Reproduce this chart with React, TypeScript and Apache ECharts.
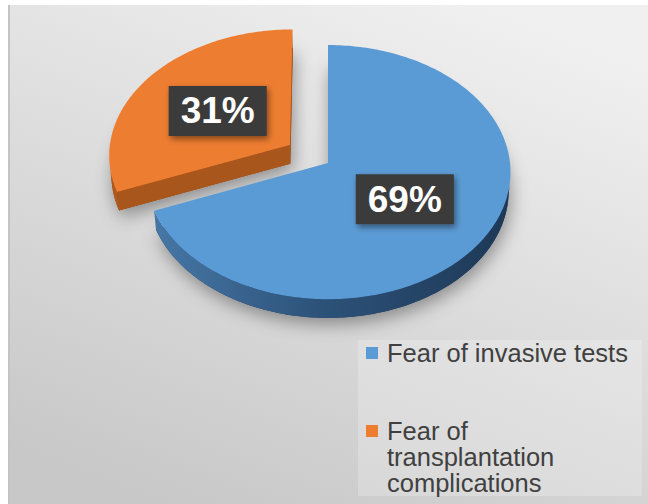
import React, { useEffect, useRef } from 'react';
import * as echarts from 'echarts';

// ---- data ----
const categories = ['Fear of invasive tests', 'Fear of transplantation complications'];
const values = [69, 31];
const legendText: Record<string, string> = {
  'Fear of invasive tests': 'Fear of invasive tests',
  'Fear of transplantation complications': '\n\nFear of\ntransplantation\ncomplications',
};

// ---- style ----
const topColors = ['#5B9BD5', '#ED7D31'];
const W = 648;
const H = 504;

// perspective pie geometry
const CX = 328;
const CY = 163;
const SCALE = 1820;
const DIST = 10;
const TILT = (44 * Math.PI) / 180;
const THICK = 0.144;
const EXPLODE = [0, 0.255];
const SA = Math.sin(TILT);
const CA = Math.cos(TILT);
const CAM = [0, -DIST * CA, DIST * SA];

function proj(x: number, y: number, h: number): number[] {
  const yc = y * SA - h * CA;
  const z = DIST + y * CA + h * SA;
  return [CX + (SCALE * x) / z, CY - (SCALE * yc) / z];
}

function faceVisible(px: number, py: number, nx: number, ny: number) {
  const vx = CAM[0] - px;
  const vy = CAM[1] - py;
  return nx * vx + ny * vy > 1e-4;
}

function sliceInfo(i: number) {
  const total = values.reduce((a, b) => a + b, 0);
  let cum = 0;
  for (let j = 0; j < i; j++) cum += values[j];
  const a0 = Math.PI / 2 - (cum / total) * Math.PI * 2;
  const a1 = a0 - (values[i] / total) * Math.PI * 2;
  const mid = (a0 + a1) / 2;
  const e = EXPLODE[i] || 0;
  return { a0, a1, mid, ox: e * Math.cos(mid), oy: e * Math.sin(mid), pct: Math.round((values[i] / total) * 100) };
}

const sideStyles = [
  {
    wall: {
      type: 'linear', x: 0, y: 0, x2: 1, y2: 0,
      colorStops: [
        { offset: 0, color: '#4777a6' },
        { offset: 0.45, color: '#2d537a' },
        { offset: 1, color: '#1e3856' },
      ],
    },
    face: '#2f5a85',
  },
  {
    wall: '#b05a1f',
    face: '#a9561d',
  },
];

function renderSlice(i: number) {
  return function (params: any, api: any) {
    const { a0, a1, mid, ox, oy, pct } = sliceInfo(i);
    const n = Math.max(8, Math.ceil(Math.abs(a0 - a1) / (Math.PI / 180)));
    const thetas: number[] = [];
    for (let k = 0; k <= n; k++) thetas.push(a0 + ((a1 - a0) * k) / n);

    const children: any[] = [];

    // bottom face as shadow caster
    const bottom: number[][] = [proj(ox, oy, THICK)];
    thetas.forEach((t) => bottom.push(proj(ox + Math.cos(t), oy + Math.sin(t), THICK)));
    children.push({
      type: 'polygon',
      shape: { points: bottom },
      style: {
        fill: i === 0 ? '#1e3856' : '#8c4716',
        shadowBlur: 18,
        shadowColor: 'rgba(0,0,0,0.38)',
        shadowOffsetX: 2,
        shadowOffsetY: 6,
      },
    });

    // radial walls
    const radial = [
      { t: a0, n: a0 + Math.PI / 2 },
      { t: a1, n: a1 - Math.PI / 2 },
    ];
    radial.forEach((r) => {
      const px = ox + 0.5 * Math.cos(r.t);
      const py = oy + 0.5 * Math.sin(r.t);
      if (faceVisible(px, py, Math.cos(r.n), Math.sin(r.n))) {
        const rx = ox + Math.cos(r.t);
        const ry = oy + Math.sin(r.t);
        children.push({
          type: 'polygon',
          shape: {
            points: [proj(ox, oy, 0), proj(rx, ry, 0), proj(rx, ry, THICK), proj(ox, oy, THICK)],
          },
          style: { fill: sideStyles[i].face },
        });
      }
    });

    // outer curved wall (visible runs)
    let run: number[] = [];
    const flush = () => {
      if (run.length > 1) {
        const topPts = run.map((t) => proj(ox + Math.cos(t), oy + Math.sin(t), 0));
        const botPts = run.map((t) => proj(ox + Math.cos(t), oy + Math.sin(t), THICK)).reverse();
        children.push({
          type: 'polygon',
          shape: { points: topPts.concat(botPts) },
          style: { fill: sideStyles[i].wall as any },
        });
      }
      run = [];
    };
    thetas.forEach((t) => {
      const px = ox + Math.cos(t);
      const py = oy + Math.sin(t);
      if (faceVisible(px, py, Math.cos(t), Math.sin(t))) run.push(t);
      else flush();
    });
    flush();

    // top face
    const top: number[][] = [proj(ox, oy, 0)];
    thetas.forEach((t) => top.push(proj(ox + Math.cos(t), oy + Math.sin(t), 0)));
    children.push({
      type: 'polygon',
      shape: { points: top },
      style: { fill: api.visual('color') || topColors[i] },
    });

    // label
    const lp = proj(ox + 0.5 * Math.cos(mid), oy + 0.5 * Math.sin(mid), 0);
    children.push({
      type: 'text',
      z2: 20,
      style: {
        text: pct + '%',
        x: lp[0],
        y: lp[1],
        align: 'center',
        verticalAlign: 'middle',
        fill: '#ffffff',
        fontSize: 37,
        fontWeight: 'bold',
        fontFamily: '"Liberation Sans", Arial, sans-serif',
        lineHeight: 38,
        backgroundColor: '#3a3a3a',
        padding: [6, 12, 6, 12],
        shadowBlur: 6,
        shadowColor: 'rgba(0,0,0,0.45)',
        shadowOffsetX: 2,
        shadowOffsetY: 3,
      },
    });

    return { type: 'group', children };
  };
}

export default function App() {
  const ref = useRef<HTMLDivElement>(null);
  useEffect(() => {
    const chart = echarts.init(ref.current!, null, { renderer: 'svg', width: W, height: H });
    const option: any = {
      animation: false,
      backgroundColor: '#ffffff',
      graphic: [
        {
          type: 'rect',
          z: -10,
          shape: { x: 8, y: 5, width: W - 8, height: H - 5 },
          style: {
            fill: {
              type: 'linear', x: 0.75, y: 0, x2: 0.25, y2: 1,
              colorStops: [
                { offset: 0, color: '#f0f0f0' },
                { offset: 1, color: '#c8c8c8' },
              ],
            },
          },
        },
        {
          type: 'rect',
          z: -9,
          shape: { x: 8, y: 5, width: 2, height: H - 5 },
          style: { fill: '#c4c4c4' },
        },
      ],
      legend: {
        orient: 'vertical',
        left: 358,
        top: 340,
        height: 400,
        padding: [0, 14, 0, 8],
        itemGap: 0,
        itemWidth: 12,
        itemHeight: 12,
        icon: 'rect',
        selectedMode: false,
        backgroundColor: 'rgba(255,255,255,0.22)',
        data: categories.map((c, i) => ({ name: c, itemStyle: { color: topColors[i] } })),
        formatter: (name: string) => legendText[name] || name,
        textStyle: {
          fontSize: 25.5,
          lineHeight: 26,
          color: '#404040',
          padding: [0, 0, 0, 4],
          fontFamily: '"Liberation Sans", Arial, sans-serif',
        },
      },
      series: categories.map((c, i) => ({
        type: 'custom',
        name: c,
        coordinateSystem: 'none',
        z: i === 0 ? 3 : 2,
        itemStyle: { color: topColors[i] },
        renderItem: renderSlice(i),
        data: [{ name: c, value: values[i] }],
      })),
    };
    chart.setOption(option);
    return () => chart.dispose();
  }, []);
  return (
    <div
      ref={ref}
      style={{ width: W, height: H, position: 'absolute', left: 0, top: 0 }}
    />
  );
}
